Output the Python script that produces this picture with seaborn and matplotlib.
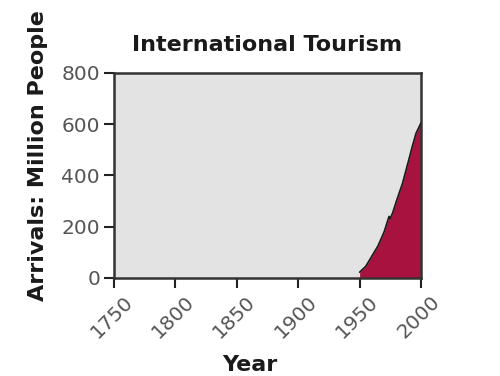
import matplotlib
matplotlib.use("Agg")
import matplotlib.pyplot as plt
import matplotlib.transforms as mtransforms
import seaborn as sns
import pandas as pd

years = [1950, 1955, 1960, 1965, 1970, 1973, 1974, 1975, 1977, 1980, 1985, 1990, 1993, 1996, 2000]
arrivals = [22, 45, 85, 125, 180, 225, 240, 232, 255, 300, 370, 460, 515, 565, 605]
xticks = [1750, 1800, 1850, 1900, 1950, 2000]
yticks = [0, 200, 400, 600, 800]

sns.set_theme(style="ticks")
plt.rcParams['font.family'] = ['DejaVu Sans']

df = pd.DataFrame({"Year": years, "Arrivals": arrivals})

fig = plt.figure(figsize=(5, 3.76), dpi=100)
ax = fig.add_axes([0.228, 0.261, 0.614, 0.545])
ax.set_facecolor("#e3e3e3")

ax.fill_between(df["Year"], 0, df["Arrivals"], color="#a8123e", linewidth=0, zorder=2)
sns.lineplot(data=df, x="Year", y="Arrivals", ax=ax, color="#1a1a1a", linewidth=1.2, zorder=3)

ax.set_xlim(1750, 2000)
ax.set_ylim(0, 800)
ax.set_xticks(xticks)
ax.set_yticks(yticks)
ax.set_xticklabels([str(t) for t in xticks], rotation=45, ha="right", rotation_mode="anchor")
ax.tick_params(axis="both", direction="out", length=7, width=1.5, color="#222222",
               labelsize=14.5, labelcolor="#555555", pad=3)
offset = mtransforms.ScaledTranslation(0.09, 0.0, fig.dpi_scale_trans)
for lab in ax.get_xticklabels():
    lab.set_transform(lab.get_transform() + offset)

for s in ax.spines.values():
    s.set_color("#333333")
    s.set_linewidth(1.8)

ax.set_xlabel("")
ax.set_ylabel("")
fig.text(0.534, 0.88, "International Tourism", fontsize=16, fontweight="bold",
         color="#1a1a1a", ha="center", va="center")
fig.text(0.5, 0.03, "Year", fontsize=16, fontweight="bold", color="#1a1a1a",
         ha="center", va="center")
fig.text(0.076, 0.585, "Arrivals: Million People", fontsize=16, fontweight="bold",
         color="#1a1a1a", ha="center", va="center", rotation=90)

fig.savefig("out.png", dpi=100)
